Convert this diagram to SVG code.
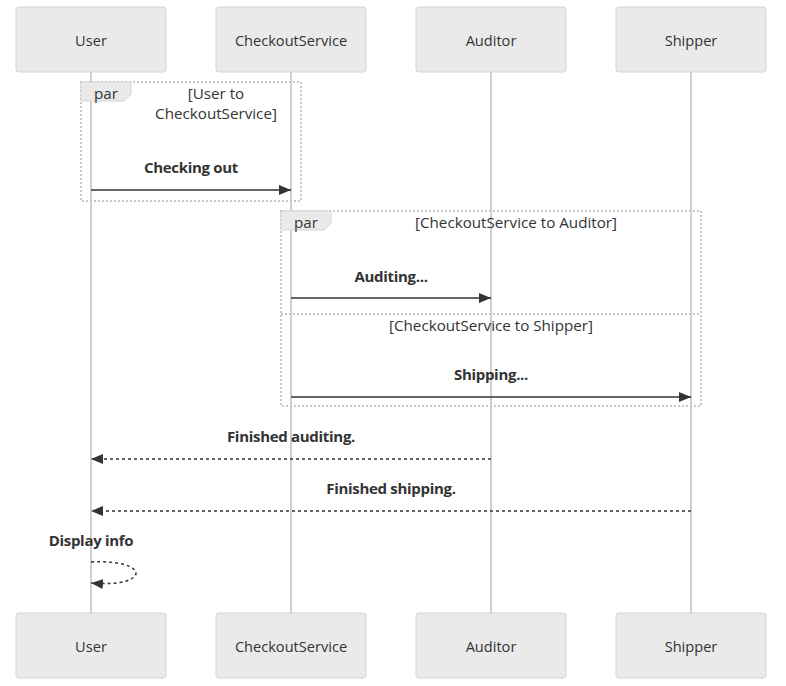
<svg xmlns="http://www.w3.org/2000/svg" width="786" height="686" viewBox="0 0 786 686">
<style>
.actor{fill:#eaeaea;stroke:#d4d4d4;stroke-width:1}
.atext{font-family:"Open Sans",sans-serif;font-size:14.6px;fill:#333;text-anchor:middle;dominant-baseline:central}
.life{stroke:#cfcfcf;stroke-width:2}
.loop{fill:none;stroke:#c8c8c8;stroke-width:2;stroke-dasharray:2,2}
.ltext{font-family:"Open Sans",sans-serif;font-size:15.2px;fill:#333;text-anchor:middle}
.msg{stroke:#333;stroke-width:1.5;fill:none}
.dot{stroke-dasharray:3,3}
.mtext{font-family:"Open Sans",sans-serif;font-size:15px;font-weight:bold;fill:#333;text-anchor:middle;letter-spacing:-0.3px}
.tab{fill:#eaeaea;stroke:#d4d4d4;stroke-width:1}
</style>
<defs>
<marker id="ah" markerWidth="12" markerHeight="10" refX="12" refY="5" orient="auto" markerUnits="userSpaceOnUse">
<path d="M0,0 L12,5 L0,10 Z" fill="#333"/>
</marker>
</defs>
<g id="lifelines">
<line class="life" x1="91" y1="72" x2="91" y2="613"/>
<line class="life" x1="291" y1="72" x2="291" y2="613"/>
<line class="life" x1="491" y1="72" x2="491" y2="613"/>
<line class="life" x1="691" y1="72" x2="691" y2="613"/>
</g>
<g id="actor-user-top"><rect class="actor" x="16" y="7" width="150" height="65" rx="3"/><text class="atext" x="91" y="40">User</text></g>
<g id="actor-checkout-top"><rect class="actor" x="216" y="7" width="150" height="65" rx="3"/><text class="atext" x="291" y="40">CheckoutService</text></g>
<g id="actor-auditor-top"><rect class="actor" x="416" y="7" width="150" height="65" rx="3"/><text class="atext" x="491" y="40">Auditor</text></g>
<g id="actor-shipper-top"><rect class="actor" x="616" y="7" width="150" height="65" rx="3"/><text class="atext" x="691" y="40">Shipper</text></g>
<g id="actor-user-bottom"><rect class="actor" x="16" y="613" width="150" height="65" rx="3"/><text class="atext" x="91" y="646">User</text></g>
<g id="actor-checkout-bottom"><rect class="actor" x="216" y="613" width="150" height="65" rx="3"/><text class="atext" x="291" y="646">CheckoutService</text></g>
<g id="actor-auditor-bottom"><rect class="actor" x="416" y="613" width="150" height="65" rx="3"/><text class="atext" x="491" y="646">Auditor</text></g>
<g id="actor-shipper-bottom"><rect class="actor" x="616" y="613" width="150" height="65" rx="3"/><text class="atext" x="691" y="646">Shipper</text></g>
<g id="par1">
<rect class="loop" x="81" y="82" width="220" height="119"/>
<path class="tab" d="M81,82 H131 V94 L124,101 H81 Z"/>
<text class="ltext" x="106" y="99">par</text>
<text class="ltext" x="216" y="99">[User to</text>
<text class="ltext" x="216" y="119">CheckoutService]</text>
</g>
<g id="par2">
<rect class="loop" x="281" y="211" width="420" height="195"/>
<line class="loop" x1="281" y1="314" x2="701" y2="314"/>
<path class="tab" d="M281,211 H331 V223 L324,230 H281 Z"/>
<text class="ltext" x="306" y="228">par</text>
<text class="ltext" x="516" y="228">[CheckoutService to Auditor]</text>
<text class="ltext" x="491" y="331">[CheckoutService to Shipper]</text>
</g>
<g id="connectors">
<text class="mtext" x="191" y="173">Checking out</text>
<line class="msg" x1="91" y1="190" x2="291" y2="190" marker-end="url(#ah)"/>
<text class="mtext" x="391" y="282">Auditing...</text>
<line class="msg" x1="291" y1="298" x2="491" y2="298" marker-end="url(#ah)"/>
<text class="mtext" x="491" y="380">Shipping...</text>
<line class="msg" x1="291" y1="397" x2="691" y2="397" marker-end="url(#ah)"/>
<text class="mtext" x="291" y="442">Finished auditing.</text>
<line class="msg dot" x1="491" y1="459" x2="91" y2="459" marker-end="url(#ah)"/>
<text class="mtext" x="391" y="494">Finished shipping.</text>
<line class="msg dot" x1="691" y1="511" x2="91" y2="511" marker-end="url(#ah)"/>
<text class="mtext" x="91" y="546">Display info</text>
<path class="msg dot" d="M91,562 C151,559 151,588 91,583" marker-end="url(#ah)"/>
</g>
</svg>
